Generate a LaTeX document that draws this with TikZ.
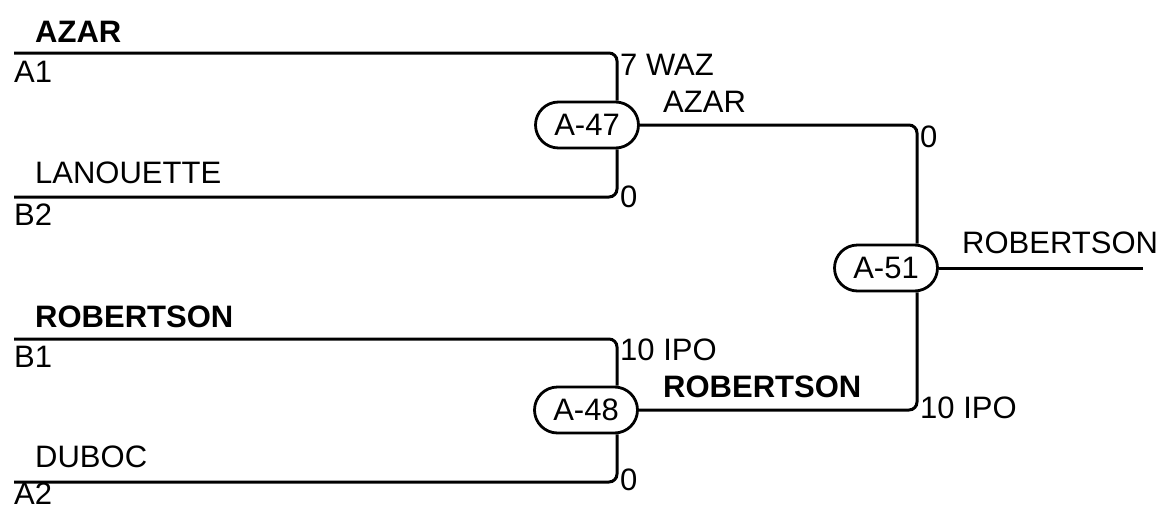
\documentclass[tikz,border=0pt]{standalone}
\usepackage{fontspec}
\setmainfont{Liberation Sans}
\usetikzlibrary{calc}

\tikzset{
	rencontre/.style={draw, line width=2.8pt, rounded corners=23pt, minimum width=103pt, minimum height=46pt, inner sep=0pt, fill=white},
	trait/.style={line width=3pt, rounded corners=8pt},
	etiq/.style={anchor=base west, inner sep=0pt},
}

\begin{document}
\begin{tikzpicture}[x=1pt,y=-1pt,font=\fontsize{31}{36}\selectfont]
	\useasboundingbox (0,0) rectangle (1162,509);
	%\draw[help lines] (0,0) grid[step=50] (1162,509);
	
	%MATCHS
	\node[rencontre] (m47) at (587,125) {A-47};
	\node[rencontre] (m48) at (586,410) {A-48};
	\node[rencontre] (m51) at (886,268) {A-51};
	
	%DEPARTS
	\coordinate (a1) at (14,53);
	\coordinate (b2) at (14,197);
	\coordinate (b1) at (14,339);
	\coordinate (a2) at (14,482);
	\coordinate (fin) at (1143,268);
	
	%TRAITS
	\draw[trait] (a1) -| ([xshift=30pt]m47.north);
	\draw[trait] (b2) -| ([xshift=30pt]m47.south);
	\draw[trait] (b1) -| ([xshift=31pt]m48.north);
	\draw[trait] (a2) -| ([xshift=31pt]m48.south);
	\draw[trait] (m47.east) -| ([xshift=31pt]m51.north);
	\draw[trait] (m48.east) -| ([xshift=31pt]m51.south);
	\draw[trait] (m51.east) -- (fin);
	
	%NOMS
	\node[etiq] (nazar) at (35,42) {\bfseries AZAR};
	\node[etiq] (na1) at (14,82) {A1};
	\node[etiq] (nlan) at (35,183) {LANOUETTE};
	\node[etiq] (nb2) at (14,225) {B2};
	\node[etiq] (nrob) at (35,327) {\bfseries ROBERTSON};
	\node[etiq] (nb1) at (14,367) {B1};
	\node[etiq] (nduboc) at (35,467) {DUBOC};
	\node[etiq] (na2) at (14,504) {A2};
	\node[etiq] (v47) at (663,112) {AZAR};
	\node[etiq] (v48) at (663,397) {\bfseries ROBERTSON};
	\node[etiq] (v51) at (962,253) {ROBERTSON};
	
	%POINTAGES
	\node[etiq] (s1) at (620,75) {7 WAZ};
	\node[etiq] (s2) at (620,207) {0};
	\node[etiq] (s3) at (620,360) {10 IPO};
	\node[etiq] (s4) at (620,490) {0};
	\node[etiq] (s5) at (920,147) {0};
	\node[etiq] (s6) at (920,418) {10 IPO};
\end{tikzpicture}
\end{document}
